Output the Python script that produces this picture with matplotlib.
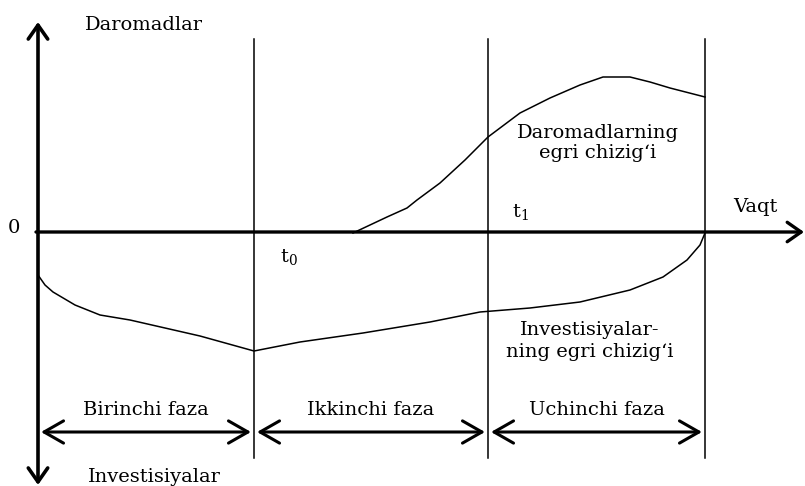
import matplotlib.pyplot as plt

# schematic: coordinates in picture units (x to the right, y downwards)
income_x = [353, 387, 407, 417, 440, 465, 488, 520, 550, 580, 603, 630, 650, 670, 705]
income_y = [233, 217, 208, 200, 183, 160, 137, 113, 98, 85, 77, 77, 82, 88, 97]

invest_x = [38, 45, 53, 75, 100, 130, 200, 254, 300, 363, 430, 480, 530, 580, 630, 663, 687, 700, 705]
invest_y = [275, 285, 292, 305, 315, 320, 336, 351, 342, 333, 322, 312, 308, 302, 290, 277, 260, 245, 233]

phase_x = [38, 254, 488, 705]
phase_names = ['Birinchi faza', 'Ikkinchi faza', 'Uchinchi faza']

plt.rcParams['font.family'] = ['DejaVu Serif']
plt.rcParams['mathtext.fontset'] = 'dejavuserif'

fig = plt.figure(figsize=(8.05, 4.86), dpi=100)
ax = fig.add_axes([0, 0, 1, 1])
ax.set_xlim(0, 805)
ax.set_ylim(486, 0)
ax.axis('off')

# axes with arrows
ax.annotate('', xy=(38, 22), xytext=(38, 485),
            arrowprops=dict(arrowstyle='<->,head_length=0.5,head_width=0.35', lw=2.6,
                            color='black', mutation_scale=20, shrinkA=0, shrinkB=0))
ax.annotate('', xy=(804, 232), xytext=(36, 232),
            arrowprops=dict(arrowstyle='->,head_length=0.5,head_width=0.35', lw=2.4,
                            color='black', mutation_scale=20, shrinkA=0, shrinkB=0))

# phase boundaries
for x in phase_x[1:]:
    ax.plot([x, x], [39, 458], color='black', lw=1.1)

# curves
ax.plot(income_x, income_y, color='black', lw=1.1)
ax.plot(invest_x, invest_y, color='black', lw=1.1)

fs = 14

# phase arrows and names
for i, name in enumerate(phase_names):
    x0, x1 = phase_x[i], phase_x[i + 1]
    ax.annotate('', xy=(x1 - 3, 432), xytext=(x0 + 3, 432),
                arrowprops=dict(arrowstyle='<->,head_length=0.7,head_width=0.4', lw=2.2,
                                color='black', mutation_scale=20, shrinkA=0, shrinkB=0))
    ax.text((x0 + x1) / 2, 415, name, ha='center', va='baseline', fontsize=fs)

ax.text(85, 30, 'Daromadlar', ha='left', va='baseline', fontsize=fs)
ax.text(88, 482, 'Investisiyalar', ha='left', va='baseline', fontsize=fs)
ax.text(14, 233, '0', ha='center', va='baseline', fontsize=fs)
ax.text(733, 212, 'Vaqt', ha='left', va='baseline', fontsize=fs)
ax.text(280, 262, r't$_0$', ha='left', va='baseline', fontsize=fs)
ax.text(512, 217, r't$_1$', ha='left', va='baseline', fontsize=fs)
ax.text(598, 138, 'Daromadlarning', ha='center', va='baseline', fontsize=fs)
ax.text(598, 158, 'egri chizig\u2018i', ha='center', va='baseline', fontsize=fs)
ax.text(590, 335, 'Investisiyalar-', ha='center', va='baseline', fontsize=fs)
ax.text(590, 357, 'ning egri chizig\u2018i', ha='center', va='baseline', fontsize=fs)

fig.savefig('out.png', dpi=100)
